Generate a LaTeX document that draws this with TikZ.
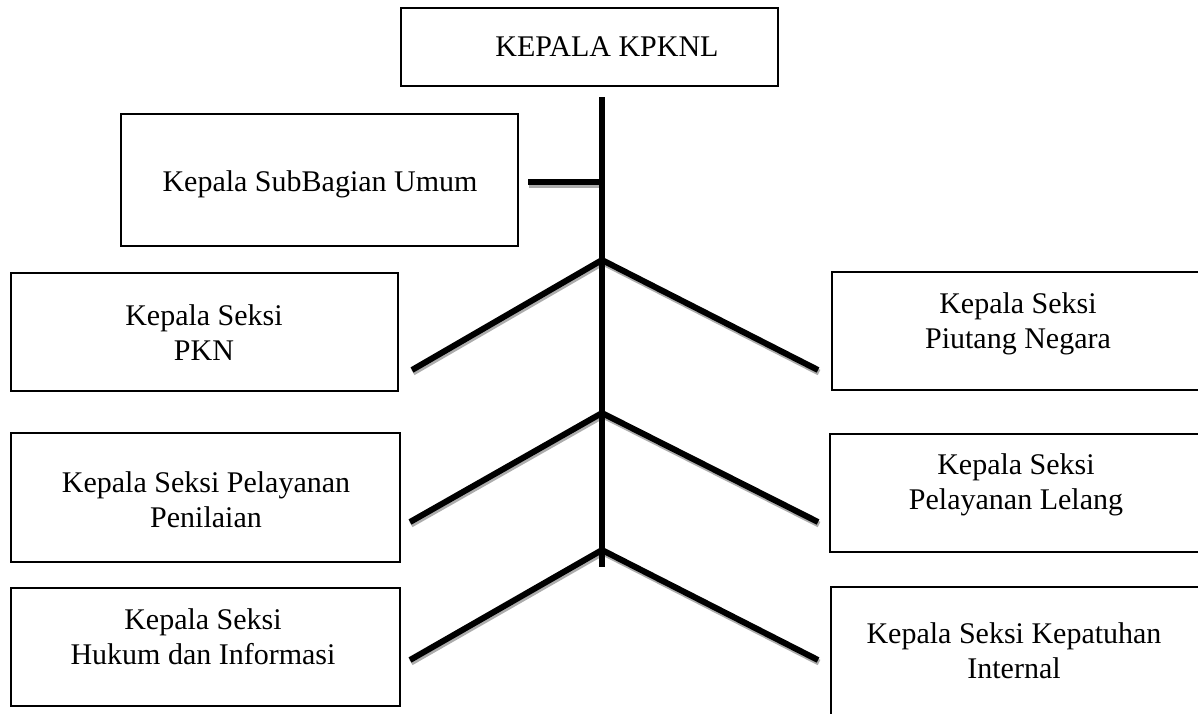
\documentclass[tikz,border=0pt]{standalone}
\usepackage{fontspec}
\setmainfont{Liberation Serif}
\begin{document}
\begin{tikzpicture}[x=1pt,y=-1pt,
  box/.style={draw=black,line width=1.8pt,minimum width=#1,inner sep=0pt,fill=none},
  lbl/.style={align=center,font=\fontsize{30}{35}\selectfont,inner sep=0pt},
  conn/.style={line width=6pt,black,line join=miter},
  shad/.style={line width=6pt,gray!65,line join=miter},
  vert/.style={line width=5.5pt,black}]
\useasboundingbox (0,0) rectangle (1198,713);
% boxes
\node[box=377pt,minimum height=78pt] (top) at (589.5,47) {};
\node[box=397pt,minimum height=132pt] (sub) at (319.5,180) {};
\node[box=387pt,minimum height=118pt] (pkn) at (204.5,332) {};
\node[box=368pt,minimum height=118pt] (piu) at (1016,331) {};
\node[box=389pt,minimum height=129pt] (pen) at (205.5,497.5) {};
\node[box=370pt,minimum height=118pt] (lel) at (1015,493) {};
\node[box=389pt,minimum height=118pt] (huk) at (205.5,647) {};
\node[box=369pt,minimum height=153pt] (kep) at (1015.5,663.5) {};
% labels
\node[lbl] (ttop) at (607,47) {KEPALA KPKNL};
\node[lbl] (tsub) at (320,184) {Kepala SubBagian Umum};
\node[lbl] (tpkn) at (204,333) {Kepala Seksi\\PKN};
\node[lbl] (tpiu) at (1018,324) {Kepala Seksi\\Piutang Negara};
\node[lbl] (tpen) at (206,500) {Kepala Seksi Pelayanan\\Penilaian};
\node[lbl] (tlel) at (1016,484.5) {Kepala Seksi\\Pelayanan Lelang};
\node[lbl] (thuk) at (203,637) {Kepala Seksi\\Hukum dan Informasi};
\node[lbl] (tkep) at (1014,651) {Kepala Seksi Kepatuhan\\Internal};
% connector points
\coordinate (vtop) at (602,97);
\coordinate (vbot) at (602,567);
\coordinate (stub) at (528,182);
\coordinate (stubv) at (602,182);
\coordinate (j1) at (602,260);
\coordinate (j2) at (602,413);
\coordinate (j3) at (602,550);
\coordinate (l1) at (412,370);
\coordinate (r1) at (818,370);
\coordinate (l2) at (410,522);
\coordinate (r2) at (818,522);
\coordinate (l3) at (410,660);
\coordinate (r3) at (818,660);
% shadows
\begin{scope}[transform canvas={shift={(1pt,-2.5pt)}}]
\draw[shad] (stub) -- (stubv);
\draw[shad] (l1) -- (j1) -- (r1);
\draw[shad] (l2) -- (j2) -- (r2);
\draw[shad] (l3) -- (j3) -- (r3);
\end{scope}
% lines
\draw[vert] (vtop) -- (vbot);
\draw[conn] (stub) -- (stubv);
\draw[conn] (l1) -- (j1) -- (r1);
\draw[conn] (l2) -- (j2) -- (r2);
\draw[conn] (l3) -- (j3) -- (r3);
\end{tikzpicture}
\end{document}
